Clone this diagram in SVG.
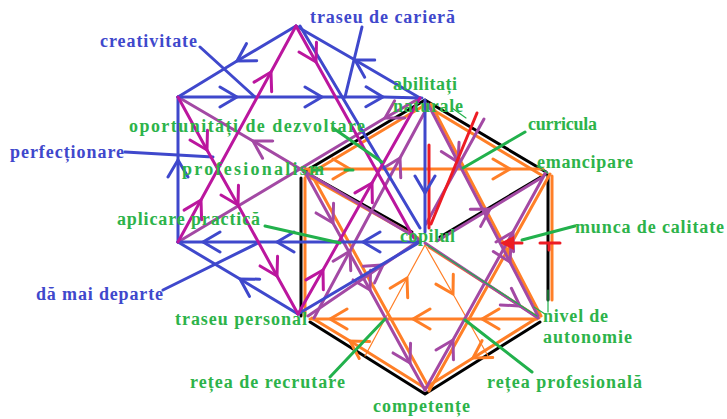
<svg xmlns="http://www.w3.org/2000/svg" width="727" height="419" viewBox="0 0 727 419">
<style>
.ln{fill:none;stroke-width:3;stroke-linecap:round;stroke-linejoin:round}
.b{stroke:#3f48cc}.m{stroke:#bb169e}.p{stroke:#a349a4}.o{stroke:#ff7f27}.k{stroke:#000}.r{stroke:#ed1c24}.g{stroke:#22b14c}
.thin{stroke-width:1.2}
.tb{fill:#3f48cc}.tg{fill:#2db34a}
</style>
<defs>
<marker id="aB" viewBox="-20 -12 22 24" refX="0" refY="0" markerWidth="22" markerHeight="24" markerUnits="userSpaceOnUse" orient="auto"><path d="M-17,-10 L0,0 L-17,10" fill="none" stroke="#3f48cc" stroke-width="3" stroke-linecap="round"/></marker>
<marker id="aM" viewBox="-20 -12 22 24" refX="0" refY="0" markerWidth="22" markerHeight="24" markerUnits="userSpaceOnUse" orient="auto"><path d="M-17,-10 L0,0 L-17,10" fill="none" stroke="#bb169e" stroke-width="3" stroke-linecap="round"/></marker>
<marker id="aP" viewBox="-20 -12 22 24" refX="0" refY="0" markerWidth="22" markerHeight="24" markerUnits="userSpaceOnUse" orient="auto"><path d="M-17,-10 L0,0 L-17,10" fill="none" stroke="#a349a4" stroke-width="3" stroke-linecap="round"/></marker>
<marker id="aO" viewBox="-20 -12 22 24" refX="0" refY="0" markerWidth="22" markerHeight="24" markerUnits="userSpaceOnUse" orient="auto"><path d="M-17,-10 L0,0 L-17,10" fill="none" stroke="#ff7f27" stroke-width="3" stroke-linecap="round"/></marker>
</defs>
<rect width="727" height="419" fill="#fff"/>
<g id="connectors">
<path class="ln k" stroke-width="2.5" d="M304,172 L425,100 L546,172"/>
<path class="ln k" d="M548,175 L548,300"/>
<path class="ln k" d="M540,322 L425,394 L310,322"/>
<path class="ln k" d="M301,178 L301,316"/>
<path class="ln k" stroke-width="2" d="M312,176 L412,232"/>
<path class="ln k" stroke-width="2" d="M440,237 L546,174"/>
<path class="ln o" d="M306,176 L425,105 L543,176"/>
<path class="ln o" d="M552,176 L552,300"/>
<path class="ln o" d="M305,178 L305,316"/>
<path class="ln o" marker-mid="url(#aO)" d="M537,318 L473,358 L425,388"/>
<path class="ln o" marker-mid="url(#aO)" d="M425,388 L350,341 L312,318"/>
<path class="ln o" marker-mid="url(#aO)" d="M305,169 L350,169 L510,169 L543,169"/>
<path class="ln o" marker-mid="url(#aO)" d="M537,319 L482,319 L413,319 L330,319 L310,319"/>
<path class="ln o" d="M309,170 L429,388"/>
<path class="ln o" d="M429,391 L550,174"/>
<path class="ln o" d="M429,247 L539,318"/>
<path class="ln o" d="M306,175 L418,238"/>
<path class="ln o" d="M431,104 L541,316"/>
<path class="ln o thin" marker-mid="url(#aO)" d="M365,356 L407,278 L425,245"/>
<path class="ln o thin" marker-mid="url(#aO)" d="M425,245 L453,294 L488,356"/>
<path class="ln p" marker-mid="url(#aP)" d="M305,172 L333,223 L370,290 L410,363 L425,390"/>
<path class="ln p" marker-mid="url(#aP)" d="M425,390 L453,340 L513,232 L546,172"/>
<path class="ln p" marker-mid="url(#aP)" d="M428,104 L458,162 L510,262 L538,316"/>
<path class="ln p" marker-mid="url(#aP)" d="M314,318 L350,251 L400,158 L428,106"/>
<path class="ln p" marker-mid="url(#aP)" d="M425,243 L520,306 L538,318"/>
<path class="ln p" stroke-width="2" marker-mid="url(#aP)" d="M308,316 L383,265 L420,240"/>
<path class="ln p" marker-mid="url(#aP)" d="M437,241 L490,209 L541,178"/>
<path class="ln p" d="M484,119 L426,224"/>
<path class="ln r" stroke-width="2.5" d="M429,145 L429,228"/>
<path class="ln r" stroke-width="2.5" d="M477,113 L431,224"/>
<path d="M514,236 L500,243 L514,250 Z" fill="#ed1c24"/>
<path class="ln r" d="M505,243 L522,243"/>
<path class="ln r" d="M540,243 L560,243 M549,243 L549,250"/>
<path class="ln p" marker-mid="url(#aP)" d="M420,240 L253,141 L178,97"/>
<path class="ln p" marker-mid="url(#aP)" d="M420,98 L385,118 L178,242"/>
<path class="ln b" marker-mid="url(#aB)" d="M296,26 L237,61 L178,97"/>
<path class="ln b" marker-mid="url(#aB)" d="M420,98 L355,60 L296,26"/>
<path class="ln b" marker-mid="url(#aB)" d="M178,97 L237,97 L322,97 L383,97 L422,98"/>
<path class="ln b" marker-mid="url(#aB)" d="M178,242 L178,160 L178,97"/>
<path class="ln b" marker-mid="url(#aB)" d="M420,242 L363,242 L277,242 L203,242 L178,242"/>
<path class="ln b" marker-mid="url(#aB)" d="M298,314 L240,279 L178,242"/>
<path class="ln b" d="M298,314 L420,242"/>
<path class="ln b" marker-mid="url(#aB)" d="M425,100 L425,193 L425,232"/>
<path class="ln b" d="M300,26 L420,228"/>
<path class="ln b" d="M200,47 L255,97"/>
<path class="ln b" d="M362,27 L345,97"/>
<path class="ln b" d="M125,152 L213,157"/>
<path class="ln b" d="M163,290 L258,243"/>
<path class="ln m" marker-mid="url(#aM)" d="M178,97 L207,150 L238,205 L277,276 L298,314"/>
<path class="ln m" marker-mid="url(#aM)" d="M178,242 L201,200 L271,72 L296,26"/>
<path class="ln m" marker-mid="url(#aM)" d="M296,26 L316,62 L414,238"/>
<path class="ln m" marker-mid="url(#aM)" d="M298,314 L323,270 L372,183 L420,98"/>
<path class="ln g" d="M333,128 L382,162"/>
<path class="ln g" d="M265,226 L340,243"/>
<path class="ln g" d="M525,132 L463,168"/>
<path class="ln g" d="M575,226 L522,240"/>
<path class="ln g" d="M330,377 L385,319"/>
<path class="ln g" d="M465,320 L532,372"/>
<path class="ln g thin" d="M537,166 L548,173"/>
<path class="ln g thin" d="M427,245 L537,316"/>
<path class="ln g thin" d="M545,314 L534,307 M548,290 L548,312"/>
<path class="ln g thin" d="M452,108 L466,118"/>
<path class="ln g" d="M313,170 L320,170 M345,170 L353,170"/>
</g>
<g font-family="'Liberation Serif', 'Times New Roman', serif" font-weight="bold" font-size="18">
<g id="n-traseu-cariera"><text class="tb" x="310" y="23" textLength="145" lengthAdjust="spacing">traseu de carieră</text></g>
<g id="n-creativitate"><text class="tb" x="100" y="47" textLength="97" lengthAdjust="spacing">creativitate</text></g>
<g id="n-perfectionare"><text class="tb" x="10" y="158" textLength="114" lengthAdjust="spacing">perfecționare</text></g>
<g id="n-da-mai-departe"><text class="tb" x="36" y="300" textLength="127" lengthAdjust="spacing">dă mai departe</text></g>
<g id="n-abilitati"><text class="tg" x="393" y="90" textLength="64" lengthAdjust="spacing">abilitați</text><text class="tg" x="393" y="112" textLength="70" lengthAdjust="spacing">naturale</text></g>
<g id="n-oportunitati"><text class="tg" x="129" y="132" textLength="236" lengthAdjust="spacing">oportunități de dezvoltare</text></g>
<g id="n-profesionalism"><text class="tg" x="182" y="175" textLength="142" lengthAdjust="spacing">profesionalism</text></g>
<g id="n-aplicare"><text class="tg" x="117" y="225" textLength="143" lengthAdjust="spacing">aplicare practică</text></g>
<g id="n-curricula"><text class="tg" x="528" y="130" textLength="69" lengthAdjust="spacing">curricula</text></g>
<g id="n-emancipare"><text class="tg" x="537" y="168" textLength="96" lengthAdjust="spacing">emancipare</text></g>
<g id="n-copilul"><text class="tg" x="400" y="242" textLength="55" lengthAdjust="spacing">copilul</text></g>
<g id="n-munca"><text class="tg" x="575" y="233" textLength="149" lengthAdjust="spacing">munca de calitate</text></g>
<g id="n-traseu-personal"><text class="tg" x="175" y="325" textLength="132" lengthAdjust="spacing">traseu personal</text></g>
<g id="n-nivel"><text class="tg" x="543" y="322" textLength="65" lengthAdjust="spacing">nivel de</text><text class="tg" x="543" y="343" textLength="89" lengthAdjust="spacing">autonomie</text></g>
<g id="n-retea-recrutare"><text class="tg" x="190" y="388" textLength="155" lengthAdjust="spacing">rețea de recrutare</text></g>
<g id="n-retea-profesionala"><text class="tg" x="487" y="388" textLength="155" lengthAdjust="spacing">rețea profesională</text></g>
<g id="n-competente"><text class="tg" x="373" y="412" textLength="97" lengthAdjust="spacing">competențe</text></g>
</g>
</svg>
